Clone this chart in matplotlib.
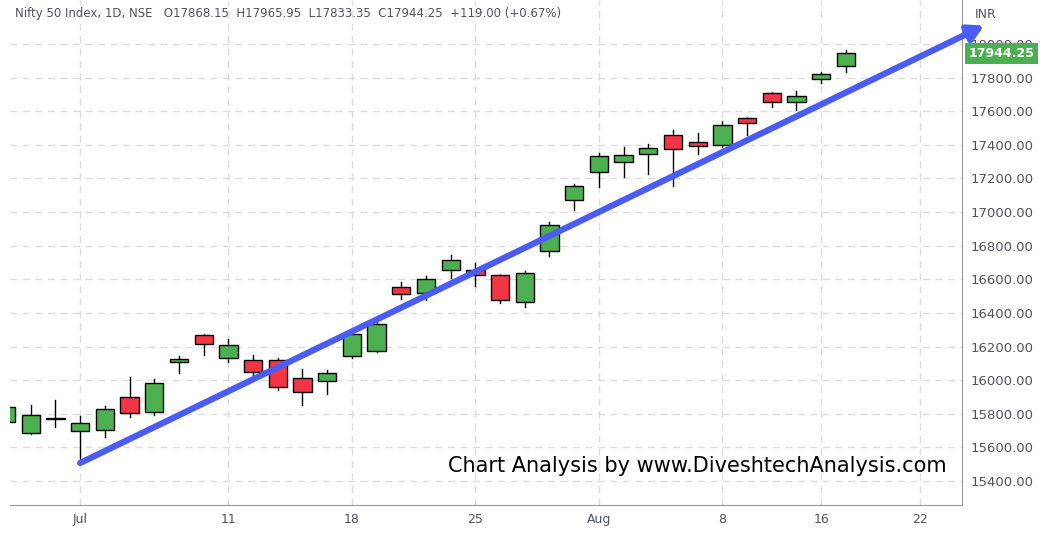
import matplotlib.pyplot as plt
from matplotlib.patches import Rectangle

# trading days, Jun 28 .. Aug 17
opens = [15751, 15686, 15769, 15697, 15704, 15900, 15811, 16108, 16269, 16132,
         16120, 16120, 16013, 15995, 16144, 16174, 16555, 16519, 16656, 16656,
         16626, 16465, 16769, 17072, 17239, 17299, 17346, 17459, 17418, 17400,
         17561, 17709, 17656, 17793, 17868.15]
highs = [15850, 15852, 15882, 15787, 15846, 16019, 16007, 16144, 16275, 16245,
         16150, 16132, 16067, 16061, 16290, 16345, 16584, 16620, 16745, 16698,
         16632, 16650, 16942, 17168, 17352, 17388, 17406, 17489, 17471, 17543,
         17565, 17715, 17721, 17834, 17965.95]
lows = [15740, 15680, 15721, 15507, 15662, 15781, 15793, 16043, 16150, 16108,
        16031, 15942, 15852, 15918, 16130, 16170, 16483, 16477, 16608, 16561,
        16459, 16436, 16739, 17013, 17150, 17209, 17227, 17156, 17346, 17388,
        17459, 17626, 17608, 17769, 17833.35]
closes = [15840, 15793, 15769, 15745, 15829, 15805, 15983, 16126, 16215, 16209,
          16049, 15959, 15930, 16043, 16275, 16335, 16513, 16602, 16715, 16626,
          16477, 16638, 16924, 17156, 17334, 17340, 17382, 17376, 17394, 17519,
          17531, 17656, 17692, 17823, 17944.25]

tick_pos = [3, 9, 14, 19, 24, 29, 33, 37]
tick_labels = ["Jul", "11", "18", "25", "Aug", "8", "16", "22"]
price_ticks = list(range(15400, 18001, 200))

GREEN = "#4caf50"
RED = "#f23645"
TXT = "#50535e"

fig = plt.figure(figsize=(10.41, 5.33), dpi=100)
ax = fig.add_axes([10 / 1041, 28 / 533, 952 / 1041, 505 / 533])

for i, (o, h, l, c) in enumerate(zip(opens, highs, lows, closes)):
    col = GREEN if c >= o else RED
    ax.plot([i, i], [l, h], color="black", lw=1, zorder=2)
    body = max(abs(c - o), 4)
    ax.add_patch(Rectangle((i - 0.37, min(o, c)), 0.74, body, facecolor=col,
                           edgecolor="black", lw=1, zorder=3))

ax.set_xlim(0.16, 38.7)
ax.set_ylim(15257, 18262)
ax.set_xticks(tick_pos)
ax.set_xticklabels(tick_labels, color=TXT, fontsize=9)
ax.set_yticks(price_ticks)
ax.set_yticklabels([f"{v:.2f}" for v in price_ticks], color=TXT, fontsize=9.5)
ax.yaxis.tick_right()
ax.tick_params(length=0, pad=6)
ax.grid(True, color="#dcdcdc", ls=(0, (5, 4)), lw=1)
ax.set_axisbelow(True)
for s in ["top", "left"]:
    ax.spines[s].set_visible(False)
ax.spines["right"].set_color("#9598a1")
ax.spines["bottom"].set_color("#9598a1")

# trend arrow
ax.annotate("", xy=(39.6, 18110), xytext=(3, 15507), annotation_clip=False,
            arrowprops=dict(arrowstyle="-|>,head_length=0.9,head_width=0.5",
                            color="#4a5cf5", lw=4.5, shrinkA=0, shrinkB=0), zorder=5)

fig.text(15 / 1041, 1 - 14 / 533,
         "Nifty 50 Index, 1D, NSE   O17868.15  H17965.95  L17833.35  C17944.25  +119.00 (+0.67%)",
         fontsize=8.5, color=TXT, va="center")
fig.text(975 / 1041, 1 - 14 / 533, "INR", fontsize=9, color=TXT, va="center")
fig.text(947 / 1041, 1 - 466 / 533, "Chart Analysis by www.DiveshtechAnalysis.com",
         fontsize=15, ha="right", va="center", color="black")
ax.text(1.007, (closes[-1] - 15257) / (18262 - 15257), f"{closes[-1]:.2f}",
        transform=ax.transAxes, fontsize=9, color="white", fontweight="bold",
        va="center", ha="left", zorder=10,
        bbox=dict(boxstyle="square,pad=0.3", fc=GREEN, ec="none"))

fig.savefig("out.png", dpi=100)
